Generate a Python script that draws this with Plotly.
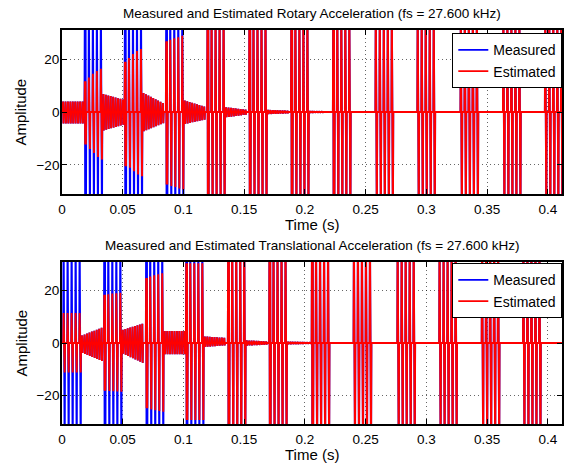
import plotly.graph_objects as go
from plotly.subplots import make_subplots

# ---------------- data ----------------
X_TICKS = [0, 0.05, 0.1, 0.15, 0.2, 0.25, 0.3, 0.35, 0.4]
X_TICK_LABELS = ["0", "0.05", "0.1", "0.15", "0.2", "0.25", "0.3", "0.35", "0.4"]
Y_TICKS = [-20, 0, 20]

BAR_SPACING = 0.0033   # spacing of the vertical strokes inside a burst (s)
RING_PERIOD = 0.0020   # period of the ringing between bursts (s)
CLIP = 45              # amplitude beyond the visible range (clipped)

# Rotary (top) : burst start times and per-stroke peaks
ROT_BURST_START = [0.0185, 0.0515, 0.0855, 0.1195, 0.1540, 0.1885,
                   0.2230, 0.2580, 0.2925, 0.3280, 0.3630, 0.3975]
ROT_EST_UP = [[11.6, 13.0, 14.5, 15.5, 16.3],
              [19.0, 20.4, 21.9, 23.1, 23.8],
              [26.7, 27.3, 27.9, 28.3, 28.8]] + [[CLIP] * 5] * 9
ROT_EST_LO = [[-12.3, -14.0, -15.5, -17.0, -18.0],
              [-20.5, -21.1, -22.4, -23.6, -24.3],
              [-27.4, -28.0, -28.4, -28.9, -29.3]] + [[-CLIP] * 5] * 9
ROT_MEAS_UP = [[CLIP] * 5] * 12
ROT_MEAS_LO = [[-CLIP] * 5] * 12
# ringing between bursts (one entry per gap: before 1st burst, then after each burst)
ROT_RING_UP_START = [4.0, 6.8, 7.2, 4.3, 1.8, 0.8, 0.4, 0, 0, 0, 0, 0, 0]
ROT_RING_UP_END   = [4.0, 4.7, 3.4, 2.1, 0.9, 0.5, 0.2, 0, 0, 0, 0, 0, 0]
ROT_RING_LO_START = [-4.3, -7.0, -7.3, -4.5, -2.0, -0.8, -0.4, 0, 0, 0, 0, 0, 0]
ROT_RING_LO_END   = [-4.3, -4.8, -4.2, -2.9, -1.0, -0.5, -0.2, 0, 0, 0, 0, 0, 0]

# Translational (bottom)
TRA_BURST_START = [0.0010, 0.0345, 0.0690, 0.1020, 0.1365, 0.1705,
                   0.2055, 0.2400, 0.2760, 0.3105, 0.3455, 0.3795]
TRA_EST_UP = [[11.5, 11.5, 11.5, 11.5, 11.5],
              [18.5, 18.7, 18.9, 19.0, 19.2],
              [24.9, 25.4, 25.9, 26.3, 26.7],
              [30.5, 30.5, 30.5, 30.5, 30.5]] + [[CLIP] * 5] * 8
TRA_EST_LO = [[-11.3, -11.3, -11.3, -11.3, -11.3],
              [-18.3, -18.4, -18.5, -18.6, -18.7],
              [-25.0, -25.4, -25.7, -26.0, -26.3],
              [-29.5, -29.5, -29.5, -29.5, -29.5]] + [[-CLIP] * 5] * 8
TRA_MEAS_UP = [[CLIP] * 5] * 12
TRA_MEAS_LO = [[-CLIP] * 5] * 12
TRA_RING_UP_START = [0, 2.9, 5.1, 4.6, 2.5, 1.0, 0.5, 0, 0, 0, 0, 0, 0]
TRA_RING_UP_END   = [0, 5.8, 7.4, 4.6, 2.0, 0.6, 0.3, 0, 0, 0, 0, 0, 0]
TRA_RING_LO_START = [0, -3.8, -4.1, -4.3, -1.5, -1.0, -0.5, 0, 0, 0, 0, 0, 0]
TRA_RING_LO_END   = [0, -6.9, -7.6, -4.3, -0.9, -0.6, -0.3, 0, 0, 0, 0, 0, 0]

T_END = 0.4125
STROKE_DT = 0.0003


def stroke(t, y, t0, u, l):
    t += [t0, t0 + STROKE_DT, t0 + 2 * STROKE_DT, t0 + 3 * STROKE_DT]
    y += [0, u, l, 0]


def build(starts, ups, los, r_us, r_ue, r_ls, r_le):
    t, y = [], []
    n = len(starts)
    edges = [0.0]
    for i in range(n):
        edges.append(starts[i])
        edges.append(starts[i] + (len(ups[i]) - 1) * BAR_SPACING + 5 * STROKE_DT)
    edges.append(T_END)
    for g in range(n + 1):
        a, b = edges[2 * g], edges[2 * g + 1]
        t.append(a)
        y.append(0)
        if b - a > RING_PERIOD and (r_us[g] != 0 or r_ls[g] != 0):
            k = int((b - a) / RING_PERIOD)
            for j in range(k):
                f = j / max(k - 1, 1)
                u = r_us[g] + f * (r_ue[g] - r_us[g])
                l = r_ls[g] + f * (r_le[g] - r_ls[g])
                stroke(t, y, a + (j + 0.3) * RING_PERIOD, u, l)
        t.append(b)
        y.append(0)
        if g < n:
            for j, (u, l) in enumerate(zip(ups[g], los[g])):
                t0 = starts[g] + j * BAR_SPACING
                t += [t0, t0 + STROKE_DT, t0 + 2 * STROKE_DT, t0 + 3 * STROKE_DT,
                      t0 + 4 * STROKE_DT, t0 + 5 * STROKE_DT]
                y += [0, u, l, u, l, 0]
    return t, y


fig = make_subplots(rows=2, cols=1, vertical_spacing=0.1)

BLUE = "#0000FF"
RED = "#FF0000"
LW = 1.9

rt, ry = build(ROT_BURST_START, ROT_MEAS_UP, ROT_MEAS_LO,
               ROT_RING_UP_START, ROT_RING_UP_END, ROT_RING_LO_START, ROT_RING_LO_END)
et, ey = build(ROT_BURST_START, ROT_EST_UP, ROT_EST_LO,
               ROT_RING_UP_START, ROT_RING_UP_END, ROT_RING_LO_START, ROT_RING_LO_END)
fig.add_trace(go.Scatter(x=rt, y=ry, mode="lines", name="Measured",
                         line=dict(color=BLUE, width=LW), legend="legend"), row=1, col=1)
fig.add_trace(go.Scatter(x=et, y=ey, mode="lines", name="Estimated",
                         line=dict(color=RED, width=LW), legend="legend"), row=1, col=1)

rt2, ry2 = build(TRA_BURST_START, TRA_MEAS_UP, TRA_MEAS_LO,
                 TRA_RING_UP_START, TRA_RING_UP_END, TRA_RING_LO_START, TRA_RING_LO_END)
et2, ey2 = build(TRA_BURST_START, TRA_EST_UP, TRA_EST_LO,
                 TRA_RING_UP_START, TRA_RING_UP_END, TRA_RING_LO_START, TRA_RING_LO_END)
fig.add_trace(go.Scatter(x=rt2, y=ry2, mode="lines", name="Measured",
                         line=dict(color=BLUE, width=LW), legend="legend2"), row=2, col=1)
fig.add_trace(go.Scatter(x=et2, y=ey2, mode="lines", name="Estimated",
                         line=dict(color=RED, width=LW), legend="legend2"), row=2, col=1)

FONT = "Liberation Sans, Arial, Helvetica, sans-serif"
L, R, T, B = 61.5, 5, 30, 40
H, W = 464, 567
PH = H - T - B


def py(p):
    return (H - B - p) / PH


def px(p):
    return (p - L) / (W - L - R)


axis_common = dict(showline=True, linecolor="black", linewidth=1.8, mirror="ticks",
                   ticks="inside", ticklen=5, tickcolor="black", tickwidth=1,
                   showgrid=True, gridcolor="rgba(0,0,0,0.6)", griddash="1px,3px",
                   gridwidth=1, zeroline=False,
                   tickfont=dict(family=FONT, size=13.5, color="black"))

fig.update_xaxes(range=[0, 0.4116], tickvals=X_TICKS, ticktext=X_TICK_LABELS,
                 ticklabelstandoff=2, **axis_common)
fig.update_yaxes(range=[-31, 31], tickvals=Y_TICKS, ticklabelstandoff=-2, **axis_common)
fig.update_layout(
    xaxis=dict(domain=[0, 1]), xaxis2=dict(domain=[0, 1]),
    yaxis=dict(domain=[py(194), 1.0]),
    yaxis2=dict(domain=[0.0, py(262)]),
)

annotations = [
    dict(text="Measured and Estimated Rotary Acceleration (fs = 27.600 kHz)",
         x=0.5, y=py(13), size=13.5),
    dict(text="Measured and Estimated Translational Acceleration (fs = 27.600 kHz)",
         x=0.5, y=py(245), size=13.5),
    dict(text="Time (s)", x=0.5, y=py(224), size=15),
    dict(text="Time (s)", x=0.5, y=py(454), size=15),
]
for a in annotations:
    fig.add_annotation(text=a["text"], x=a["x"], y=a["y"], xref="paper", yref="paper",
                       showarrow=False, xanchor="center", yanchor="middle",
                       font=dict(family=FONT, size=a["size"], color="black"))
for yy in (py(112), py(343)):
    fig.add_annotation(text="Amplitude", x=px(20), y=yy, xref="paper", yref="paper",
                       showarrow=False, textangle=-90, xanchor="center", yanchor="middle",
                       font=dict(family=FONT, size=15, color="black"))

legend_common = dict(bgcolor="white", bordercolor="black", borderwidth=1.3,
                     font=dict(family=FONT, size=14, color="black"),
                     xanchor="right", yanchor="top", x=1.0,
                     tracegroupgap=0, itemwidth=30)
fig.update_layout(
    width=W, height=H,
    margin=dict(l=L, r=R, t=T, b=B, autoexpand=False),
    paper_bgcolor="white", plot_bgcolor="white",
    showlegend=True,
    legend=dict(y=py(33), **legend_common),
    legend2=dict(y=py(263), **legend_common),
)

fig.write_html("out.html",
               config={"displayModeBar": False},
               post_script="document.body.style.margin='0px';"
                           "document.body.style.padding='0px';"
                           "document.documentElement.style.overflow='hidden';")
